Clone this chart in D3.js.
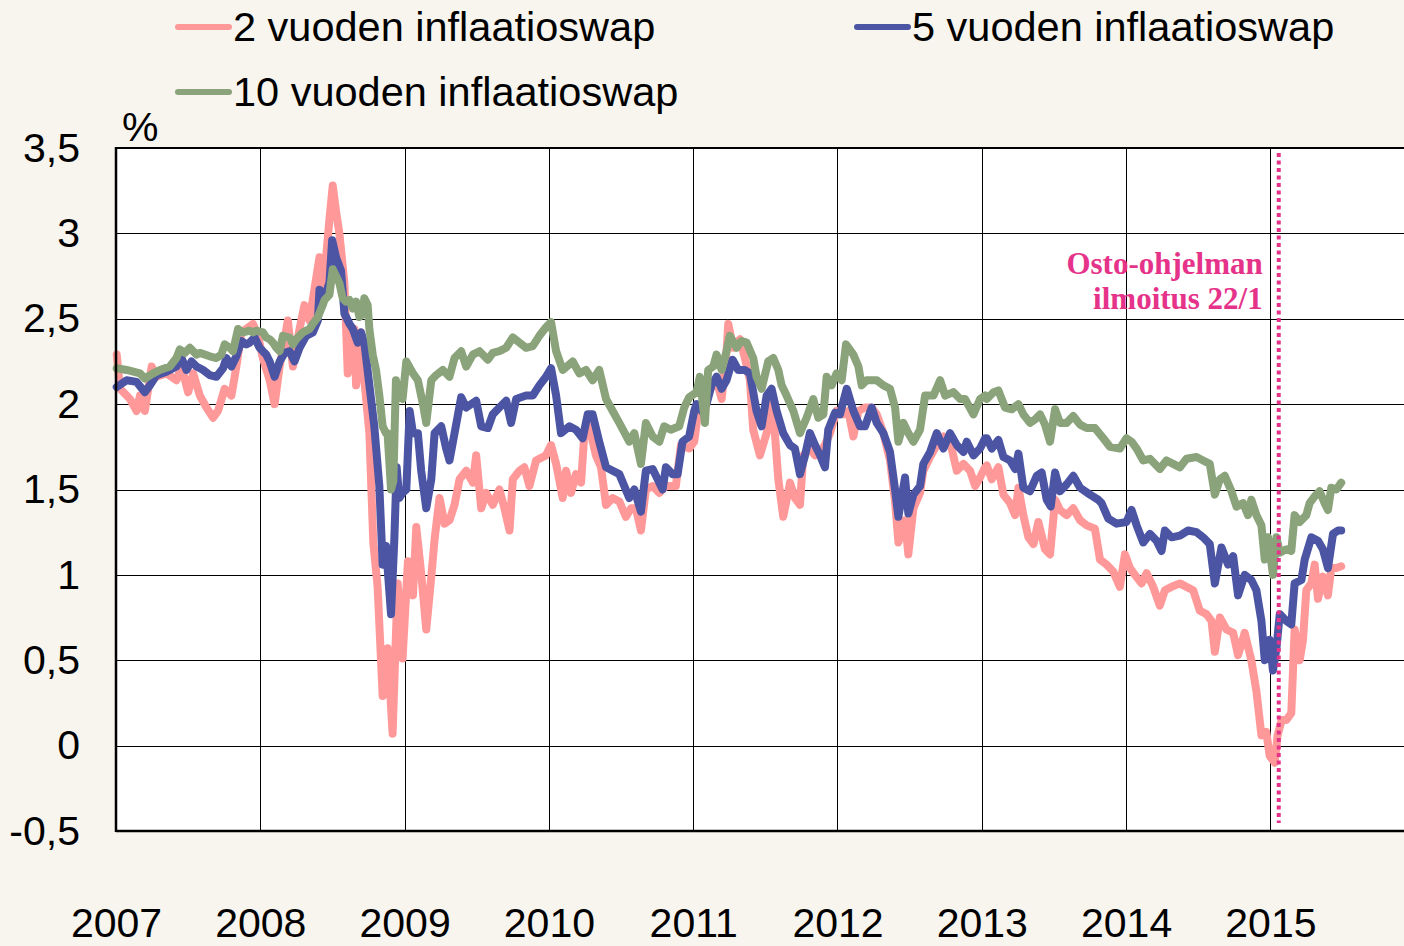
<!DOCTYPE html>
<html>
<head>
<meta charset="utf-8">
<script src="https://cdn.jsdelivr.net/npm/d3@7"></script>
<style>
  body { margin: 0; background: #f8f4ee; }
  svg { display: block; font-family: "Liberation Sans", Arial, sans-serif; }
</style>
</head>
<body>
<script>
// tick values / labels
var years = [2007, 2008, 2009, 2010, 2011, 2012, 2013, 2014, 2015];
var yTicks = [-0.5, 0, 0.5, 1, 1.5, 2, 2.5, 3, 3.5];
var yTickLabels = ["-0,5", "0", "0,5", "1", "1,5", "2", "2,5", "3", "3,5"];

var seriesNames = ["2 vuoden inflaatioswap", "5 vuoden inflaatioswap", "10 vuoden inflaatioswap"];
var seriesColors = ["#ff9999", "#4b55a4", "#8aa37b"];

var announceDate = 2015.058;   // 22.1.2015
var annotationLines = ["Osto-ohjelman", "ilmoitus 22/1"];

// [decimal year, %]
var swap2 = [
  [2007.005,2.29],[2007.028,2.09],[2007.097,2.03],[2007.143,1.96],[2007.166,2.05],[2007.200,1.96],[2007.247,2.22],
  [2007.281,2.16],[2007.350,2.18],[2007.419,2.14],[2007.454,2.22],[2007.500,2.07],[2007.535,2.18],[2007.581,2.05],
  [2007.627,1.98],[2007.673,1.92],[2007.707,1.96],[2007.753,2.09],[2007.800,2.05],[2007.834,2.22],[2007.869,2.42],
  [2007.949,2.47],[2007.984,2.40],[2008.018,2.27],[2008.065,2.14],[2008.099,2.00],[2008.134,2.22],[2008.191,2.49],
  [2008.226,2.22],[2008.272,2.44],[2008.306,2.58],[2008.341,2.49],[2008.410,2.86],[2008.433,2.64],[2008.479,3.08],
  [2008.502,3.28],[2008.525,3.13],[2008.548,3.00],[2008.583,2.71],[2008.606,2.18],[2008.629,2.31],[2008.652,2.44],
  [2008.664,2.11],[2008.698,2.42],[2008.721,2.14],[2008.756,1.83],[2008.783,1.19],[2008.813,0.93],[2008.848,0.29],
  [2008.882,0.57],[2008.917,0.07],[2008.952,0.95],[2008.986,0.51],
  [2009.023,1.08],[2009.058,0.88],[2009.081,1.28],[2009.115,1.01],[2009.150,0.68],[2009.185,0.99],[2009.208,1.21],
  [2009.242,1.45],[2009.277,1.30],[2009.311,1.32],[2009.346,1.41],[2009.381,1.56],[2009.427,1.61],[2009.473,1.54],
  [2009.496,1.70],[2009.531,1.39],[2009.565,1.48],[2009.611,1.41],[2009.657,1.50],[2009.692,1.39],[2009.727,1.26],
  [2009.750,1.56],[2009.796,1.61],[2009.830,1.63],[2009.865,1.52],[2009.911,1.67],[2009.980,1.70],[2010.015,1.76],
  [2010.050,1.65],[2010.096,1.45],[2010.119,1.61],[2010.153,1.48],[2010.188,1.59],[2010.223,1.54],[2010.246,1.83],
  [2010.280,1.87],[2010.326,1.70],[2010.361,1.63],[2010.396,1.41],[2010.442,1.45],[2010.488,1.43],[2010.534,1.34],
  [2010.569,1.39],[2010.603,1.39],[2010.638,1.26],[2010.672,1.50],[2010.719,1.52],[2010.765,1.48],[2010.811,1.52],
  [2010.880,1.52],[2010.915,1.76],[2010.972,1.74],[2011.007,1.78],
  [2011.035,1.96],[2011.069,2.00],[2011.116,2.09],[2011.162,2.14],[2011.197,2.03],[2011.231,2.31],[2011.243,2.47],
  [2011.277,2.33],[2011.324,2.38],[2011.358,2.27],[2011.393,2.14],[2011.416,1.85],[2011.462,1.70],[2011.509,1.83],
  [2011.543,2.00],[2011.566,1.83],[2011.590,1.56],[2011.624,1.34],[2011.671,1.54],[2011.705,1.45],[2011.740,1.41],
  [2011.763,1.70],[2011.809,1.74],[2011.844,1.70],[2011.879,1.72],[2011.913,1.76],[2011.948,1.83],[2011.994,1.96],
  [2012.040,1.94],[2012.075,1.96],[2012.110,1.81],[2012.145,1.96],[2012.191,1.98],[2012.237,1.98],[2012.272,1.94],
  [2012.318,1.83],[2012.364,1.67],[2012.399,1.43],[2012.422,1.19],[2012.468,1.32],[2012.491,1.12],[2012.526,1.39],
  [2012.572,1.48],[2012.595,1.61],[2012.642,1.69],[2012.688,1.76],[2012.734,1.81],[2012.780,1.78],[2012.827,1.61],
  [2012.873,1.65],[2012.919,1.61],[2012.954,1.52],[2012.988,1.57],[2013.023,1.63],
  [2013.035,1.64],[2013.069,1.56],[2013.115,1.63],[2013.150,1.47],[2013.196,1.42],[2013.231,1.35],[2013.254,1.51],
  [2013.288,1.35],[2013.323,1.22],[2013.358,1.18],[2013.392,1.31],[2013.438,1.15],[2013.473,1.12],[2013.508,1.44],
  [2013.542,1.38],[2013.588,1.35],[2013.634,1.39],[2013.681,1.32],[2013.727,1.29],[2013.784,1.27],[2013.819,1.09],
  [2013.865,1.06],[2013.911,1.02],[2013.957,0.93],[2013.992,1.12],[2014.027,1.04],[2014.061,1.00],[2014.107,0.95],
  [2014.142,1.01],[2014.188,0.93],[2014.234,0.82],[2014.269,0.91],[2014.315,0.93],[2014.373,0.95],[2014.419,0.93],
  [2014.465,0.91],[2014.511,0.79],[2014.557,0.77],[2014.592,0.73],[2014.615,0.55],[2014.650,0.75],[2014.696,0.68],
  [2014.742,0.66],[2014.776,0.53],[2014.822,0.66],[2014.868,0.50],[2014.903,0.32],[2014.938,0.06],[2014.972,0.08],
  [2014.995,-0.06],[2015.030,-0.10],[2015.050,0.06],[2015.078,0.15],[2015.111,0.15],[2015.145,0.19],[2015.168,0.68],
  [2015.203,0.50],[2015.226,0.62],[2015.249,0.91],[2015.284,0.95],[2015.307,1.06],[2015.330,0.86],[2015.364,0.99],
  [2015.399,0.88],[2015.422,1.04],[2015.457,1.04],[2015.491,1.05]
];

var swap5 = [
  [2007.005,2.10],[2007.074,2.14],[2007.143,2.13],[2007.200,2.07],[2007.235,2.11],[2007.281,2.17],[2007.350,2.19],
  [2007.419,2.22],[2007.454,2.27],[2007.488,2.20],[2007.523,2.25],[2007.558,2.22],[2007.604,2.20],[2007.650,2.17],
  [2007.696,2.16],[2007.742,2.21],[2007.765,2.27],[2007.800,2.22],[2007.834,2.28],[2007.869,2.37],[2007.903,2.35],
  [2007.926,2.36],[2007.961,2.39],[2007.995,2.33],[2008.041,2.29],[2008.065,2.25],[2008.099,2.16],[2008.134,2.25],
  [2008.168,2.30],[2008.203,2.31],[2008.237,2.25],[2008.272,2.33],[2008.318,2.40],[2008.364,2.42],[2008.399,2.49],
  [2008.410,2.67],[2008.445,2.63],[2008.479,2.71],[2008.498,2.96],[2008.525,2.86],[2008.560,2.78],[2008.583,2.53],
  [2008.618,2.47],[2008.641,2.44],[2008.675,2.36],[2008.698,2.42],[2008.721,2.36],[2008.756,2.11],[2008.790,1.87],
  [2008.825,1.52],[2008.848,1.06],[2008.871,1.17],[2008.906,0.77],[2008.929,1.21],[2008.945,1.63],[2008.963,1.45],
  [2008.986,1.48],
  [2009.012,1.50],[2009.035,1.96],[2009.058,1.83],[2009.092,1.83],[2009.115,1.61],[2009.150,1.39],[2009.185,1.56],
  [2009.208,1.83],[2009.254,1.87],[2009.288,1.74],[2009.311,1.67],[2009.346,1.83],[2009.392,2.04],[2009.427,1.98],
  [2009.496,2.02],[2009.531,1.87],[2009.577,1.86],[2009.611,1.94],[2009.657,1.98],[2009.704,2.02],[2009.738,1.89],
  [2009.773,2.03],[2009.842,2.05],[2009.888,2.05],[2009.934,2.11],[2009.980,2.16],[2010.015,2.21],[2010.050,2.05],
  [2010.084,1.83],[2010.142,1.87],[2010.188,1.85],[2010.234,1.80],[2010.269,1.94],[2010.303,1.94],[2010.349,1.78],
  [2010.396,1.63],[2010.442,1.61],[2010.488,1.59],[2010.557,1.45],[2010.592,1.50],[2010.638,1.37],[2010.672,1.61],
  [2010.719,1.62],[2010.788,1.50],[2010.811,1.63],[2010.857,1.59],[2010.892,1.59],[2010.926,1.78],[2010.972,1.81],
  [2011.007,1.96],
  [2011.023,2.00],[2011.058,1.96],[2011.092,2.00],[2011.127,2.11],[2011.162,2.16],[2011.197,2.09],[2011.231,2.14],
  [2011.273,2.26],[2011.312,2.20],[2011.358,2.20],[2011.393,2.18],[2011.439,1.96],[2011.474,1.87],[2011.509,2.05],
  [2011.543,2.09],[2011.578,1.96],[2011.624,1.83],[2011.671,1.76],[2011.705,1.74],[2011.740,1.59],[2011.775,1.70],
  [2011.809,1.83],[2011.844,1.76],[2011.879,1.70],[2011.913,1.63],[2011.936,1.85],[2011.983,1.95],[2012.017,1.94],
  [2012.064,2.09],[2012.110,1.96],[2012.156,1.87],[2012.191,1.87],[2012.237,1.98],[2012.272,1.89],[2012.318,1.83],
  [2012.364,1.72],[2012.399,1.50],[2012.422,1.34],[2012.468,1.57],[2012.491,1.36],[2012.526,1.47],[2012.572,1.52],
  [2012.595,1.65],[2012.642,1.72],[2012.688,1.83],[2012.734,1.74],[2012.780,1.83],[2012.827,1.76],[2012.873,1.72],
  [2012.896,1.78],[2012.942,1.70],[2012.988,1.74],[2013.023,1.80],
  [2013.035,1.80],[2013.069,1.74],[2013.115,1.79],[2013.150,1.69],[2013.196,1.67],[2013.231,1.62],[2013.254,1.71],
  [2013.288,1.51],[2013.334,1.49],[2013.381,1.58],[2013.415,1.60],[2013.450,1.44],[2013.478,1.40],[2013.508,1.60],
  [2013.542,1.49],[2013.588,1.53],[2013.634,1.58],[2013.681,1.51],[2013.750,1.47],[2013.807,1.44],[2013.830,1.42],
  [2013.877,1.33],[2013.934,1.30],[2014.003,1.31],[2014.038,1.38],[2014.073,1.29],[2014.119,1.19],[2014.165,1.24],
  [2014.211,1.20],[2014.246,1.14],[2014.269,1.26],[2014.315,1.22],[2014.373,1.23],[2014.430,1.26],[2014.488,1.25],
  [2014.534,1.22],[2014.580,1.18],[2014.615,0.95],[2014.661,1.16],[2014.707,1.06],[2014.742,1.11],[2014.776,0.88],
  [2014.822,1.00],[2014.868,0.97],[2014.903,0.91],[2014.938,0.73],[2014.961,0.50],[2014.995,0.62],[2015.018,0.44],
  [2015.042,0.57],[2015.065,0.77],[2015.111,0.73],[2015.145,0.71],[2015.168,0.95],[2015.215,0.97],[2015.238,1.09],
  [2015.284,1.22],[2015.330,1.20],[2015.364,1.15],[2015.399,1.04],[2015.434,1.24],[2015.469,1.26],[2015.491,1.26]
];

var swap10 = [
  [2007.005,2.21],[2007.074,2.20],[2007.166,2.18],[2007.200,2.15],[2007.258,2.18],[2007.304,2.20],[2007.373,2.22],
  [2007.419,2.27],[2007.442,2.32],[2007.477,2.30],[2007.512,2.33],[2007.558,2.29],[2007.581,2.30],[2007.650,2.28],
  [2007.696,2.27],[2007.730,2.29],[2007.753,2.35],[2007.788,2.33],[2007.811,2.31],[2007.846,2.44],[2007.880,2.42],
  [2007.926,2.43],[2007.949,2.42],[2007.972,2.43],[2008.018,2.42],[2008.041,2.39],[2008.065,2.38],[2008.088,2.36],
  [2008.111,2.33],[2008.134,2.31],[2008.157,2.40],[2008.203,2.39],[2008.226,2.35],[2008.249,2.38],[2008.295,2.42],
  [2008.341,2.44],[2008.364,2.47],[2008.399,2.51],[2008.433,2.58],[2008.445,2.61],[2008.479,2.64],[2008.502,2.79],
  [2008.525,2.75],[2008.548,2.71],[2008.571,2.62],[2008.594,2.60],[2008.618,2.61],[2008.641,2.56],[2008.664,2.60],
  [2008.687,2.51],[2008.710,2.53],[2008.721,2.62],[2008.744,2.58],[2008.756,2.44],[2008.779,2.29],[2008.802,2.20],
  [2008.825,2.05],[2008.848,1.87],[2008.871,1.83],[2008.882,1.83],[2008.906,1.50],[2008.922,1.55],[2008.940,2.14],
  [2008.963,2.05],[2008.986,2.03],
  [2009.012,2.25],[2009.058,2.18],[2009.092,2.14],[2009.127,2.00],[2009.150,1.89],[2009.185,2.14],[2009.219,2.17],
  [2009.265,2.20],[2009.311,2.16],[2009.346,2.27],[2009.392,2.31],[2009.427,2.22],[2009.473,2.29],[2009.519,2.31],
  [2009.577,2.26],[2009.611,2.30],[2009.657,2.31],[2009.704,2.33],[2009.750,2.39],[2009.796,2.36],[2009.842,2.33],
  [2009.888,2.34],[2009.934,2.40],[2009.980,2.45],[2010.015,2.48],[2010.050,2.31],[2010.096,2.20],[2010.165,2.25],
  [2010.211,2.18],[2010.257,2.20],[2010.303,2.14],[2010.349,2.20],[2010.396,2.03],[2010.442,1.96],[2010.488,1.89],
  [2010.557,1.78],[2010.592,1.83],[2010.638,1.65],[2010.672,1.89],[2010.719,1.81],[2010.765,1.78],[2010.799,1.87],
  [2010.845,1.85],[2010.903,1.87],[2010.938,1.98],[2010.972,2.04],[2011.007,2.06],
  [2011.023,2.07],[2011.046,2.16],[2011.081,1.89],[2011.104,2.20],[2011.139,2.22],[2011.162,2.29],[2011.197,2.20],
  [2011.231,2.31],[2011.254,2.40],[2011.301,2.33],[2011.335,2.37],[2011.370,2.36],[2011.416,2.27],[2011.439,2.16],
  [2011.474,2.09],[2011.520,2.25],[2011.555,2.27],[2011.590,2.20],[2011.613,2.11],[2011.647,2.05],[2011.694,1.96],
  [2011.740,1.83],[2011.786,1.92],[2011.832,2.03],[2011.867,1.92],[2011.902,1.94],[2011.925,2.16],[2011.960,2.11],
  [2011.994,2.18],[2012.029,2.14],[2012.059,2.35],[2012.110,2.29],[2012.145,2.22],[2012.168,2.11],[2012.202,2.14],
  [2012.272,2.14],[2012.318,2.11],[2012.364,2.09],[2012.399,1.98],[2012.422,1.78],[2012.457,1.89],[2012.491,1.83],
  [2012.526,1.78],[2012.572,1.85],[2012.607,2.05],[2012.665,2.05],[2012.711,2.14],[2012.746,2.05],[2012.803,2.07],
  [2012.850,2.03],[2012.884,2.03],[2012.942,1.94],[2012.988,2.03],[2013.023,2.05],
  [2013.035,2.03],[2013.081,2.07],[2013.115,2.08],[2013.161,1.98],[2013.208,1.97],[2013.254,2.00],[2013.288,1.94],
  [2013.334,1.89],[2013.369,1.91],[2013.404,1.94],[2013.438,1.88],[2013.473,1.78],[2013.508,1.97],[2013.542,1.89],
  [2013.588,1.89],[2013.634,1.93],[2013.681,1.88],[2013.727,1.86],[2013.784,1.86],[2013.842,1.80],[2013.888,1.75],
  [2013.957,1.74],[2014.003,1.80],[2014.038,1.78],[2014.073,1.74],[2014.119,1.67],[2014.165,1.68],[2014.234,1.62],
  [2014.280,1.67],[2014.326,1.65],[2014.373,1.63],[2014.419,1.68],[2014.488,1.69],[2014.534,1.67],[2014.580,1.65],
  [2014.615,1.47],[2014.650,1.56],[2014.684,1.58],[2014.730,1.49],[2014.765,1.40],[2014.811,1.42],[2014.845,1.35],
  [2014.868,1.44],[2014.903,1.35],[2014.938,1.29],[2014.961,1.09],[2014.984,1.22],[2015.018,1.00],[2015.042,1.22],
  [2015.065,1.13],[2015.111,1.15],[2015.145,1.14],[2015.168,1.35],[2015.203,1.31],[2015.249,1.35],[2015.272,1.42],
  [2015.307,1.46],[2015.341,1.49],[2015.376,1.42],[2015.399,1.38],[2015.422,1.51],[2015.457,1.50],[2015.491,1.54]
];

var width = 1404, height = 946;
var margin = {top: 148, right: 0, bottom: 115, left: 116};
var plotW = width - margin.left - margin.right,
    plotH = height - margin.top - margin.bottom;

var x = d3.scaleLinear().domain([2007, 2015.926]).range([margin.left, width - margin.right]);
var y = d3.scaleLinear().domain([-0.5, 3.5]).range([height - margin.bottom, margin.top]);

var svg = d3.select("body").append("svg")
    .attr("width", width)
    .attr("height", height);

svg.append("rect")
    .attr("width", width).attr("height", height)
    .attr("fill", "#f8f4ee");

// plot area
svg.append("rect")
    .attr("x", margin.left).attr("y", margin.top)
    .attr("width", plotW).attr("height", plotH)
    .attr("fill", "#ffffff");

// grid
svg.append("g")
    .selectAll("line")
    .data(yTicks.slice(1, -1))
    .enter().append("line")
      .attr("x1", margin.left).attr("x2", width)
      .attr("y1", function(d) { return Math.round(y(d)) + 0.5; })
      .attr("y2", function(d) { return Math.round(y(d)) + 0.5; })
      .attr("stroke", "#000").attr("stroke-width", 1);

svg.append("g")
    .selectAll("line")
    .data(years.slice(1))
    .enter().append("line")
      .attr("x1", function(d) { return Math.round(x(d)) + 0.5; })
      .attr("x2", function(d) { return Math.round(x(d)) + 0.5; })
      .attr("y1", margin.top).attr("y2", height - margin.bottom)
      .attr("stroke", "#000").attr("stroke-width", 1);

// series (pink under blue under green)
var line = d3.line()
    .x(function(d) { return x(d[0]); })
    .y(function(d) { return y(d[1]); });

var allSeries = [swap2, swap5, swap10];
svg.append("g")
    .selectAll("path")
    .data(allSeries)
    .enter().append("path")
      .attr("d", line)
      .attr("fill", "none")
      .attr("stroke", function(d, i) { return seriesColors[i]; })
      .attr("stroke-width", 8)
      .attr("stroke-linejoin", "round")
      .attr("stroke-linecap", "round");

// frame
svg.append("line")
    .attr("x1", margin.left).attr("x2", width)
    .attr("y1", margin.top).attr("y2", margin.top)
    .attr("stroke", "#000").attr("stroke-width", 2);
svg.append("line")
    .attr("x1", margin.left).attr("x2", width)
    .attr("y1", height - margin.bottom).attr("y2", height - margin.bottom)
    .attr("stroke", "#000").attr("stroke-width", 2.5);
svg.append("line")
    .attr("x1", margin.left).attr("x2", margin.left)
    .attr("y1", margin.top - 1).attr("y2", height - margin.bottom + 1)
    .attr("stroke", "#000").attr("stroke-width", 2.5);

// announcement marker
var ax = x(announceDate);
svg.append("line")
    .attr("x1", ax).attr("x2", ax)
    .attr("y1", margin.top + 5).attr("y2", height - margin.bottom - 8)
    .attr("stroke", "#e6338a")
    .attr("stroke-width", 4)
    .attr("stroke-dasharray", "4,3.5");

svg.append("g")
    .selectAll("text")
    .data(annotationLines)
    .enter().append("text")
      .attr("x", ax - 16)
      .attr("y", function(d, i) { return 274 + i * 35; })
      .attr("text-anchor", "end")
      .attr("fill", "#e6338a")
      .style("font-family", "'Liberation Serif', 'Times New Roman', serif")
      .style("font-weight", "bold")
      .style("font-size", "31px")
      .text(function(d) { return d; });

// axes
var yAxis = d3.axisLeft(y)
    .tickValues(yTicks)
    .tickSize(0)
    .tickPadding(36)
    .tickFormat(function(d, i) { return yTickLabels[i]; });
var gy = svg.append("g")
    .attr("transform", "translate(" + margin.left + ",0)")
    .call(yAxis);
gy.select(".domain").remove();
gy.selectAll("text")
    .style("font-size", "41px")
    .style("font-family", "'Liberation Sans', Arial, sans-serif")
    .attr("fill", "#000");

var xAxis = d3.axisBottom(x)
    .tickValues(years)
    .tickSize(0)
    .tickPadding(77)
    .tickFormat(d3.format("d"));
var gx = svg.append("g")
    .attr("transform", "translate(0," + (height - margin.bottom) + ")")
    .call(xAxis);
gx.select(".domain").remove();
gx.selectAll("text")
    .style("font-size", "41px")
    .style("font-family", "'Liberation Sans', Arial, sans-serif")
    .attr("fill", "#000");

// unit
svg.append("text")
    .attr("x", 122).attr("y", 141)
    .style("font-size", "41px")
    .text("%");

// legend
var legendPos = [[178, 27], [857, 27], [178, 92]];
var legend = svg.append("g")
    .selectAll("g")
    .data(seriesNames)
    .enter().append("g")
      .attr("transform", function(d, i) { return "translate(" + legendPos[i][0] + "," + legendPos[i][1] + ")"; });
legend.append("line")
    .attr("x1", 0).attr("x2", 51)
    .attr("stroke", function(d, i) { return seriesColors[i]; })
    .attr("stroke-width", 6)
    .attr("stroke-linecap", "round");
legend.append("text")
    .attr("x", 55).attr("y", 14)
    .style("font-size", "41.5px")
    .text(function(d) { return d; });
</script>
</body>
</html>
